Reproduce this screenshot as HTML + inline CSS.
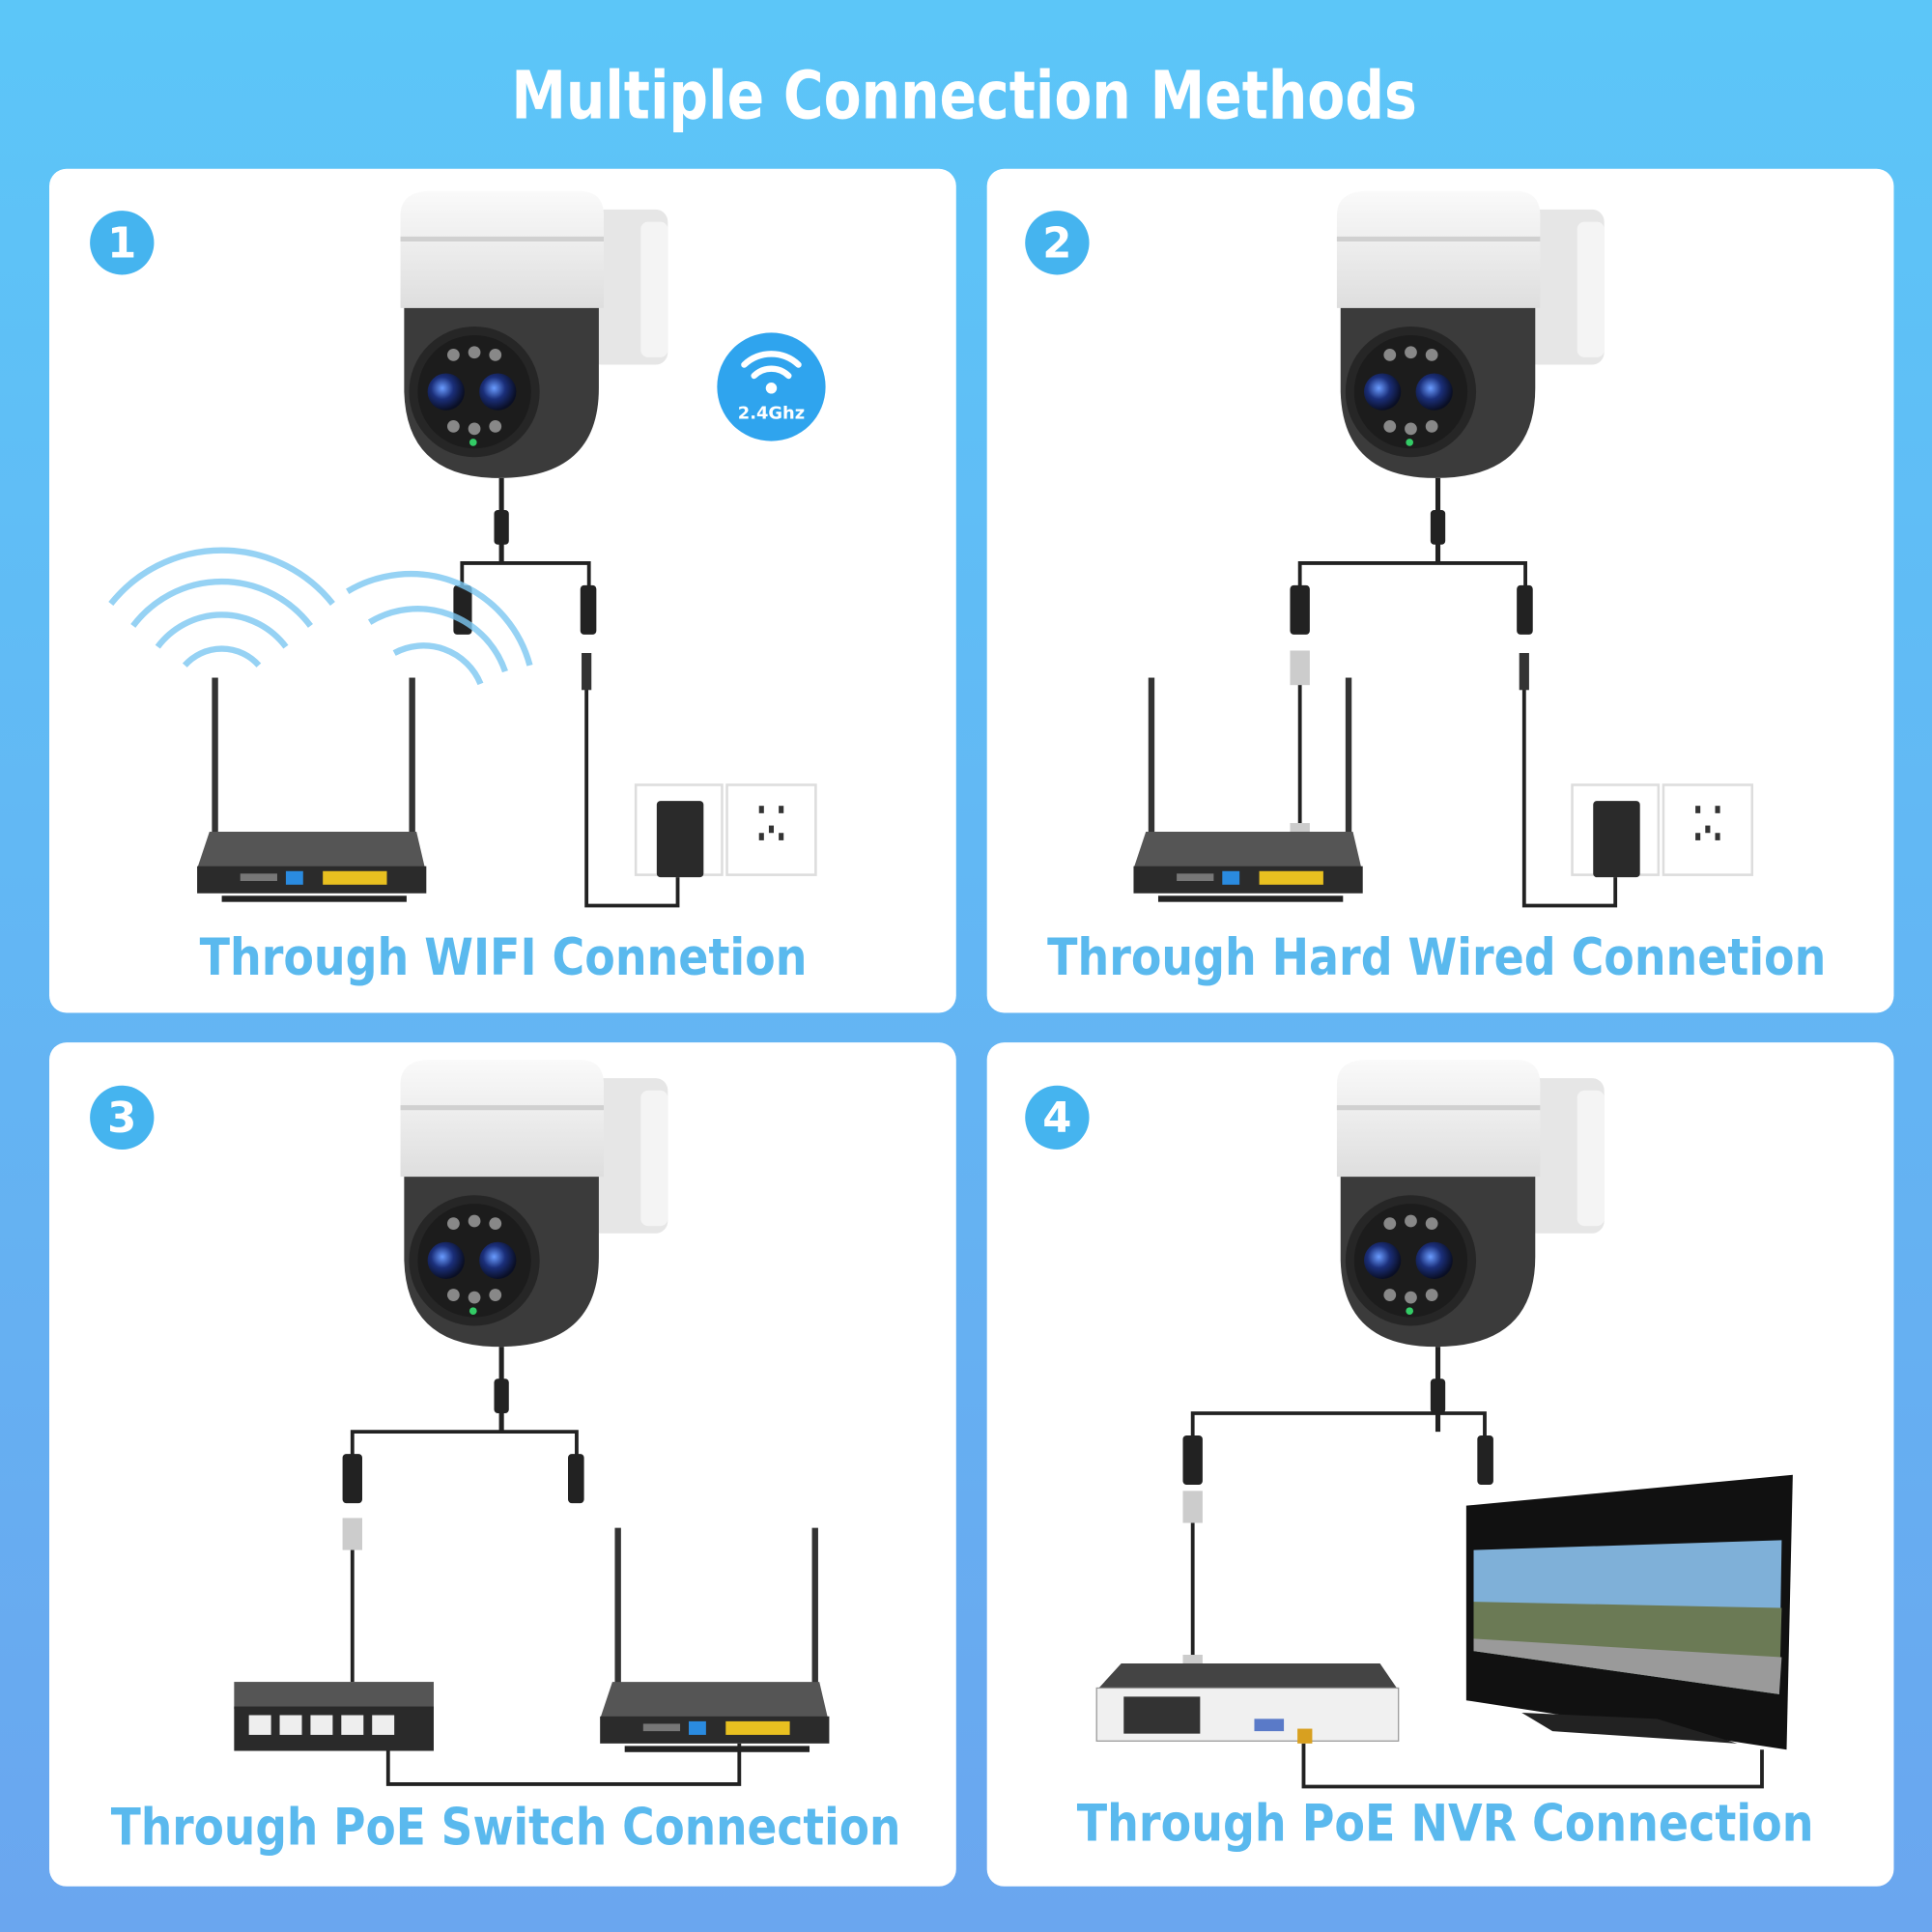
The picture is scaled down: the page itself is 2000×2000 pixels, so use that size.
<!DOCTYPE html>
<html><head><meta charset="utf-8">
<style>
html,body{margin:0;padding:0;width:2000px;height:2000px;overflow:hidden}
svg{display:block}
text{font-family:"DejaVu Sans","Liberation Sans",sans-serif;font-weight:bold}
</style></head>
<body>
<svg width="2000" height="2000" viewBox="0 0 1568 1568" xmlns="http://www.w3.org/2000/svg">
<defs>
<linearGradient id="bg" x1="0" y1="0" x2="0" y2="1">
<stop offset="0" stop-color="#5cc6f8"/><stop offset="1" stop-color="#6aa6ef"/>
</linearGradient>
<linearGradient id="dome" x1="0" y1="0" x2="0" y2="1">
<stop offset="0" stop-color="#fafafa"/><stop offset="1" stop-color="#dedede"/>
</linearGradient>
<radialGradient id="lens" cx="0.4" cy="0.4" r="0.6">
<stop offset="0" stop-color="#6a9cff"/><stop offset="0.5" stop-color="#1b2f7a"/><stop offset="1" stop-color="#0a0f25"/>
</radialGradient>
<g id="cam">
<rect x="478" y="170" width="64" height="126" rx="10" fill="#e6e6e6"/>
<rect x="520" y="180" width="22" height="110" rx="6" fill="#f4f4f4"/>
<path d="M325,250 L325,175 Q325,155 350,155 L470,155 Q490,155 490,175 L490,250 Z" fill="url(#dome)"/>
<rect x="325" y="192" width="165" height="4" fill="#d0d0d0"/>
<path d="M328,250 L486,250 L486,315 Q486,388 405,388 Q330,388 328,318 Z" fill="#3b3b3b"/>
<circle cx="385" cy="318" r="53" fill="#262626"/>
<circle cx="385" cy="318" r="46" fill="#1c1c1c"/>
<circle cx="362" cy="318" r="15" fill="url(#lens)"/>
<circle cx="404" cy="318" r="15" fill="url(#lens)"/>
<g fill="#888"><circle cx="368" cy="288" r="5"/><circle cx="385" cy="286" r="5"/><circle cx="402" cy="288" r="5"/>
<circle cx="368" cy="346" r="5"/><circle cx="385" cy="348" r="5"/><circle cx="402" cy="346" r="5"/></g>
<circle cx="384" cy="359" r="3" fill="#3c6"/>
<rect x="405" y="388" width="4" height="28" fill="#222"/>
<rect x="401" y="414" width="12" height="28" rx="3" fill="#222"/>
<rect x="405" y="440" width="4" height="17" fill="#222"/>
</g>
<g id="router">
<rect x="172" y="550" width="5" height="140" fill="#333"/>
<rect x="332" y="550" width="5" height="140" fill="#333"/>
<path d="M170,675 L338,675 L345,705 L160,705 Z" fill="#555"/>
<rect x="160" y="703" width="186" height="22" fill="#2b2b2b"/>
<rect x="180" y="727" width="150" height="5" fill="#222"/>
<rect x="232" y="707" width="14" height="11" fill="#2a8be0"/>
<rect x="262" y="707" width="52" height="11" fill="#e8c020"/>
<rect x="195" y="709" width="30" height="6" fill="#777"/>
</g>
<g id="plug">
<rect x="516" y="637" width="70" height="73" fill="#fff" stroke="#ddd" stroke-width="2"/>
<rect x="533" y="650" width="38" height="62" rx="3" fill="#2a2a2a"/>
<rect x="590" y="637" width="72" height="73" fill="#fff" stroke="#ddd" stroke-width="2"/>
<g fill="#333"><rect x="616" y="654" width="4" height="6"/><rect x="632" y="654" width="4" height="6"/><rect x="616" y="676" width="4" height="6"/><rect x="632" y="676" width="4" height="6"/><rect x="624" y="670" width="4" height="6"/></g>
</g>
</defs>
<rect width="1568" height="1568" fill="url(#bg)"/>
<text x="415" y="96" font-size="54" fill="#fff" textLength="735" lengthAdjust="spacingAndGlyphs">Multiple Connection Methods</text>

<rect x="40" y="137" width="736" height="685" rx="14" fill="#fff"/>
<rect x="801" y="137" width="736" height="685" rx="14" fill="#fff"/>
<rect x="40" y="846" width="736" height="685" rx="14" fill="#fff"/>
<rect x="801" y="846" width="736" height="685" rx="14" fill="#fff"/>

<g fill="#45b4ef">
<circle cx="99" cy="197" r="26"/><circle cx="858" cy="197" r="26"/>
<circle cx="99" cy="907" r="26"/><circle cx="858" cy="907" r="26"/>
</g>
<g fill="#fff" font-size="34" text-anchor="middle">
<text x="99" y="209">1</text><text x="858" y="209">2</text><text x="99" y="919">3</text><text x="858" y="919">4</text>
</g>

<!-- Panel 1 -->
<use href="#cam"/>
<g fill="none" stroke="#222" stroke-width="3">
<path d="M375,480 L375,457 L478,457 L478,480"/>
<path d="M476,540 L476,735 L550,735 L550,712"/>
</g>
<rect x="368" y="475" width="15" height="40" rx="3" fill="#222"/>
<rect x="471" y="475" width="13" height="40" rx="3" fill="#222"/>
<rect x="472" y="530" width="8" height="30" fill="#333"/>
<g fill="none" stroke="#7cc8f2" stroke-width="5" opacity="0.8">
<path d="M150,540 A40,40 0 0 1 210,540"/>
<path d="M128,525 A65,65 0 0 1 232,525"/>
<path d="M108,508 A90,90 0 0 1 252,508"/>
<path d="M90,490 A115,115 0 0 1 270,490"/>
<path d="M320,530 A50,50 0 0 1 390,555"/>
<path d="M300,505 A75,75 0 0 1 410,545"/>
<path d="M282,480 A100,100 0 0 1 430,540"/>
</g>
<use href="#router"/>
<use href="#plug"/>
<circle cx="626" cy="314" r="44" fill="#2fa4ee"/>
<g fill="none" stroke="#fff" stroke-width="5" stroke-linecap="round">
<path d="M604,296 A32,32 0 0 1 648,296"/>
<path d="M612,305 A20,20 0 0 1 640,305"/>
</g>
<circle cx="626" cy="315" r="4.5" fill="#fff"/>
<text x="626" y="340" font-size="14" fill="#fff" text-anchor="middle">2.4Ghz</text>
<text x="162" y="791" font-size="41" fill="#5ab9ee" textLength="493" lengthAdjust="spacingAndGlyphs">Through WIFI Connetion</text>

<!-- Panel 2 -->
<use href="#cam" transform="translate(760,0)"/>
<g fill="none" stroke="#222" stroke-width="3">
<path d="M1055,480 L1055,457 L1238,457 L1238,480"/>
<path d="M1237,540 L1237,735 L1311,735 L1311,712"/>
<path d="M1055,555 L1055,670"/>
</g>
<rect x="1047" y="475" width="16" height="40" rx="3" fill="#222"/>
<rect x="1231" y="475" width="13" height="40" rx="3" fill="#222"/>
<rect x="1233" y="530" width="8" height="30" fill="#333"/>
<rect x="1047" y="528" width="16" height="28" fill="#ccc"/>
<rect x="1047" y="668" width="16" height="28" fill="#ccc"/>
<use href="#router" transform="translate(760,0)"/>
<use href="#plug" transform="translate(760,0)"/>
<text x="850" y="791" font-size="41" fill="#5ab9ee" textLength="632" lengthAdjust="spacingAndGlyphs">Through Hard Wired Connetion</text>

<!-- Panel 3 -->
<use href="#cam" transform="translate(0,705)"/>
<g fill="none" stroke="#222" stroke-width="3">
<path d="M286,1185 L286,1162 L468,1162 L468,1185"/>
<path d="M286,1255 L286,1365"/>
<path d="M315,1420 L315,1448 L600,1448 L600,1415"/>
</g>
<rect x="278" y="1180" width="16" height="40" rx="3" fill="#222"/>
<rect x="461" y="1180" width="13" height="40" rx="3" fill="#222"/>
<rect x="278" y="1232" width="16" height="26" fill="#ccc"/>
<rect x="190" y="1365" width="162" height="22" fill="#555"/>
<rect x="190" y="1385" width="162" height="36" fill="#2a2a2a"/>
<g fill="#eee"><rect x="202" y="1392" width="18" height="16"/><rect x="227" y="1392" width="18" height="16"/><rect x="252" y="1392" width="18" height="16"/><rect x="277" y="1392" width="18" height="16"/><rect x="302" y="1392" width="18" height="16"/></g>
<use href="#router" transform="translate(327,690)"/>
<text x="90" y="1497" font-size="41" fill="#5ab9ee" textLength="641" lengthAdjust="spacingAndGlyphs">Through PoE Switch Connection</text>

<!-- Panel 4 -->
<use href="#cam" transform="translate(760,705)"/>
<g fill="none" stroke="#222" stroke-width="3">
<path d="M968,1170 L968,1147 L1205,1147 L1205,1170"/>
<path d="M968,1235 L968,1345"/>
<path d="M1058,1415 L1058,1450 L1430,1450 L1430,1420"/>
</g>
<rect x="960" y="1165" width="16" height="40" rx="3" fill="#222"/>
<rect x="1199" y="1165" width="13" height="40" rx="3" fill="#222"/>
<rect x="960" y="1210" width="16" height="26" fill="#ccc"/>
<rect x="960" y="1343" width="16" height="26" fill="#ccc"/>
<path d="M910,1350 L1120,1350 L1135,1372 L890,1372 Z" fill="#444"/>
<rect x="890" y="1370" width="245" height="43" fill="#f0f0f0" stroke="#999"/>
<rect x="912" y="1377" width="62" height="30" fill="#333"/>
<rect x="1018" y="1395" width="24" height="10" fill="#5a7ac8"/>
<rect x="1053" y="1403" width="12" height="12" fill="#d8a020"/>
<path d="M1190,1222 L1455,1197 L1450,1420 L1190,1380 Z" fill="#111"/>
<path d="M1196,1258 L1446,1250 L1444,1375 L1196,1340 Z" fill="#7fb0d8"/>
<path d="M1196,1300 L1446,1305 L1444,1375 L1196,1340 Z" fill="#6b7a55"/>
<path d="M1196,1330 L1446,1345 L1444,1375 L1196,1340 Z" fill="#9a9a9a"/>
<path d="M1235,1390 L1345,1395 L1410,1415 L1260,1405 Z" fill="#222"/>
<text x="874" y="1494" font-size="41" fill="#5ab9ee" textLength="598" lengthAdjust="spacingAndGlyphs">Through PoE NVR Connection</text>
</svg>
</body></html>
